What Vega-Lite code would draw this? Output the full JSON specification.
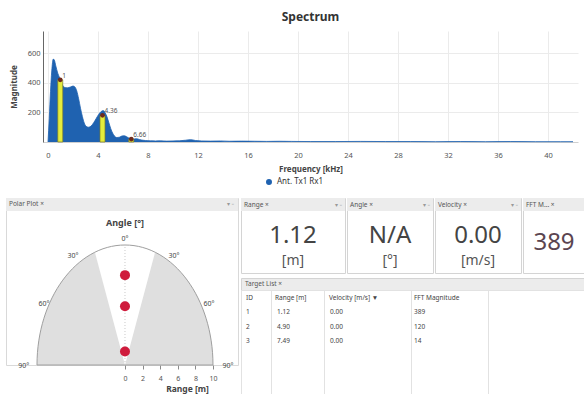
{
  "$schema": "https://vega.github.io/schema/vega-lite/v6.json",
  "padding": {"left": 5, "top": 11, "right": 0, "bottom": 0},
  "background": "white",
  "spacing": 9,
  "resolve": {"scale": {"color": "independent"}, "legend": {"color": "independent"}},
  "config": {
    "font": "Noto Sans",
    "view": {"stroke": null}
  },
  "datasets": {
    "spectrum": [
      {"f": 0, "mag": 0}, {"f": 0.1, "mag": 160}, {"f": 0.2, "mag": 340}, {"f": 0.3, "mag": 480},
      {"f": 0.42, "mag": 560}, {"f": 0.5, "mag": 555}, {"f": 0.62, "mag": 515}, {"f": 0.78, "mag": 465},
      {"f": 0.95, "mag": 430}, {"f": 1.1, "mag": 395}, {"f": 1.3, "mag": 370}, {"f": 1.55, "mag": 366},
      {"f": 1.8, "mag": 372}, {"f": 2.0, "mag": 378}, {"f": 2.15, "mag": 372}, {"f": 2.3, "mag": 345},
      {"f": 2.45, "mag": 292}, {"f": 2.6, "mag": 228}, {"f": 2.75, "mag": 172}, {"f": 2.9, "mag": 128},
      {"f": 3.05, "mag": 106}, {"f": 3.25, "mag": 100}, {"f": 3.45, "mag": 108}, {"f": 3.65, "mag": 130},
      {"f": 3.85, "mag": 158}, {"f": 4.05, "mag": 186}, {"f": 4.25, "mag": 206}, {"f": 4.42, "mag": 212},
      {"f": 4.58, "mag": 196}, {"f": 4.72, "mag": 170}, {"f": 4.87, "mag": 130}, {"f": 5.02, "mag": 90},
      {"f": 5.17, "mag": 60}, {"f": 5.32, "mag": 40}, {"f": 5.5, "mag": 30}, {"f": 5.7, "mag": 32},
      {"f": 5.9, "mag": 40}, {"f": 6.1, "mag": 42}, {"f": 6.3, "mag": 35}, {"f": 6.5, "mag": 25},
      {"f": 6.7, "mag": 20}, {"f": 6.9, "mag": 21}, {"f": 7.1, "mag": 22}, {"f": 7.3, "mag": 17},
      {"f": 7.5, "mag": 13}, {"f": 7.8, "mag": 10}, {"f": 8.2, "mag": 8}, {"f": 8.6, "mag": 7},
      {"f": 9.0, "mag": 8}, {"f": 9.5, "mag": 6}, {"f": 10.0, "mag": 7}, {"f": 10.5, "mag": 8},
      {"f": 11.0, "mag": 12}, {"f": 11.4, "mag": 16}, {"f": 11.8, "mag": 10}, {"f": 12.3, "mag": 7},
      {"f": 13.0, "mag": 6}, {"f": 13.8, "mag": 7}, {"f": 14.5, "mag": 5}, {"f": 15.5, "mag": 6},
      {"f": 16.5, "mag": 5}, {"f": 17.5, "mag": 4}, {"f": 18.5, "mag": 5}, {"f": 19.5, "mag": 4},
      {"f": 21, "mag": 3}, {"f": 23, "mag": 3}, {"f": 25, "mag": 4}, {"f": 27, "mag": 3},
      {"f": 29, "mag": 3}, {"f": 31, "mag": 2}, {"f": 33, "mag": 3}, {"f": 35, "mag": 2},
      {"f": 37, "mag": 3}, {"f": 39, "mag": 2}, {"f": 41, "mag": 2}, {"f": 42, "mag": 2}
    ],
    "peaks": [
      {"f": 0.98, "mag": 420, "label": "1"},
      {"f": 4.36, "mag": 180, "label": "4.36"},
      {"f": 6.66, "mag": 20, "label": "6.66"}
    ],
    "targets": [
      {"id": 1, "range": 1.12, "velocity": 0, "fft": 389},
      {"id": 2, "range": 4.9, "velocity": 0, "fft": 120},
      {"id": 3, "range": 7.49, "velocity": 0, "fft": 14}
    ],
    "tiles": [
      {"name": "Range", "tab": "Range  ×", "value": "1.12", "unit": "[m]"},
      {"name": "Angle", "tab": "Angle  ×", "value": "N/A", "unit": "[°]"},
      {"name": "Velocity", "tab": "Velocity  ×", "value": "0.00", "unit": "[m/s]"},
      {"name": "FFT", "tab": "FFT M...  ×", "value": "389", "unit": ""}
    ],
    "angles": [
      {"label": "0°", "x": 0, "y": 10.5},
      {"label": "30°", "x": -5.9, "y": 9.08},
      {"label": "30°", "x": 5.57, "y": 9.08},
      {"label": "60°", "x": -9.2, "y": 5.08},
      {"label": "60°", "x": 9.55, "y": 5.08},
      {"label": "90°", "x": -11.5, "y": -0.1},
      {"label": "90°", "x": 11.7, "y": -0.1}
    ]
  },
  "vconcat": [
    {
      "spacing": 0,
      "resolve": {"scale": {"color": "independent"}, "legend": {"color": "independent"}},
      "hconcat": [
        {"width": 4, "height": 1, "data": {"values": []}, "mark": "text"},
        {
          "width": 535,
          "height": 111,
          "title": {"text": "Spectrum", "fontSize": 12, "fontWeight": "bold", "color": "#333333", "offset": 7},
          "layer": [
            {
              "data": {"name": "spectrum"},
              "mark": {"type": "area", "interpolate": "monotone", "opacity": 1, "line": {"color": "#4a86c8", "strokeWidth": 0.8}},
              "encoding": {
                "x": {
                  "field": "f", "type": "quantitative", "title": "Frequency [kHz]",
                  "scale": {"domain": [0, 42], "nice": false, "zero": false},
                  "axis": {
                    "values": [0, 2, 4, 6, 8, 10, 12, 14, 16, 18, 20, 22, 24, 26, 28, 30, 32, 34, 36, 38, 40, 42],
                    "ticks": false, "labelPadding": 9, "labelFontSize": 7.5, "labelColor": "#555555",
                    "labelFlush": true, "domainColor": "#cfcfcf", "gridColor": "#ebebeb",
                    "titleFontSize": 8, "titleFontWeight": "bold", "titleColor": "#444444", "titlePadding": 7
                  }
                },
                "y": {
                  "field": "mag", "type": "quantitative", "title": "Magnitude",
                  "scale": {"domain": [0, 750], "nice": false},
                  "axis": {
                    "values": [200, 400, 600], "ticks": false, "labelPadding": 3, "labelFontSize": 7.5,
                    "labelColor": "#555555", "domainColor": "#666666", "gridColor": "#ebebeb",
                    "titleFontSize": 8, "titleFontWeight": "bold", "titleColor": "#444444", "titlePadding": 9
                  }
                },
                "color": {
                  "datum": "Ant. Tx1 Rx1", "type": "nominal",
                  "scale": {"range": ["#1f62b0"]},
                  "legend": {"orient": "none", "legendX": 222, "legendY": 147, "direction": "horizontal", "title": null, "symbolType": "circle", "symbolSize": 20, "labelFontSize": 8, "labelColor": "#333333", "padding": 0}
                }
              }
            },
            {
              "data": {"name": "peaks"},
              "mark": {"type": "bar", "size": 5, "fill": "#e4ec3c", "stroke": "#7d7d2a", "strokeWidth": 0.7},
              "encoding": {
                "x": {"field": "f", "type": "quantitative", "title": "Frequency [kHz]"},
                "y": {"field": "mag", "type": "quantitative", "title": "Magnitude"}
              }
            },
            {
              "data": {"name": "peaks"},
              "mark": {"type": "point", "filled": true, "size": 22, "color": "#6e2a1c", "opacity": 1},
              "encoding": {
                "x": {"field": "f", "type": "quantitative", "title": "Frequency [kHz]"},
                "y": {"field": "mag", "type": "quantitative", "title": "Magnitude"}
              }
            },
            {
              "data": {"name": "peaks"},
              "mark": {"type": "text", "align": "left", "baseline": "bottom", "dx": 2, "dy": -1, "fontSize": 6.5, "color": "#555555"},
              "encoding": {
                "x": {"field": "f", "type": "quantitative", "title": "Frequency [kHz]"},
                "y": {"field": "mag", "type": "quantitative", "title": "Magnitude"},
                "text": {"field": "label"}
              }
            }
          ]
        }
      ]
    },
    {
      "spacing": 3,
      "bounds": "flush",
      "hconcat": [
        {
          "width": 232,
          "height": 167,
          "view": {"stroke": "#d9d9d9"},
          "layer": [
            {
              "data": {"values": [{"t": "Polar Plot  ×"}]},
              "mark": {"type": "rect", "fill": "#ececec"},
              "encoding": {
                "y": {"datum": 12.83, "type": "quantitative", "scale": {"domain": [0, 13.92], "nice": false, "zero": false}, "axis": null},
                "y2": {"datum": 13.92}
              }
            },
            {
              "data": {"values": [{"t": "Polar Plot  ×"}]},
              "mark": {"type": "text", "align": "left", "fontSize": 6.5, "color": "#555555"},
              "encoding": {
                "text": {"field": "t"},
                "x": {
                  "datum": -13.18, "type": "quantitative", "title": "Range [m]",
                  "scale": {"domain": [-13.52, 12.84], "nice": false, "zero": false},
                  "axis": {
                    "values": [0, 2, 4, 6, 8, 10], "domain": false, "grid": false, "tickSize": 4, "tickColor": "#8a8a8a",
                    "labelFontSize": 7, "labelColor": "#555555", "labelPadding": 5,
                    "titleFontSize": 8.5, "titleFontWeight": "bold", "titleColor": "#444444", "titlePadding": 3, "titleX": 181
                  }
                },
                "y": {"datum": 13.38, "type": "quantitative", "axis": null}
              }
            },
            {
              "data": {"values": [{"t": "▾ ▫"}]},
              "mark": {"type": "text", "align": "right", "dx": -4, "fontSize": 6, "color": "#999999"},
              "encoding": {
                "text": {"field": "t"},
                "x": {"datum": 12.84, "type": "quantitative", "title": "Range [m]"},
                "y": {"datum": 13.38, "type": "quantitative", "axis": null}
              }
            },
            {
              "data": {"values": [{"s": "left"}]},
              "mark": {"type": "point", "shape": "M 0 0 L -0.7333 0 A 0.7333 1 0 0 1 -0.2508 -0.9397 Z", "size": 57600, "filled": true, "fill": "#dfdfdf", "strokeWidth": 0, "opacity": 1},
              "encoding": {
                "x": {"datum": 0, "type": "quantitative", "title": "Range [m]"},
                "y": {"datum": 0, "type": "quantitative", "axis": null}
              }
            },
            {
              "data": {"values": [{"s": "right"}]},
              "mark": {"type": "point", "shape": "M 0 0 L 0.2508 -0.9397 A 0.7333 1 0 0 1 0.7333 0 Z", "size": 57600, "filled": true, "fill": "#dfdfdf", "strokeWidth": 0, "opacity": 1},
              "encoding": {
                "x": {"datum": 0, "type": "quantitative", "title": "Range [m]"},
                "y": {"datum": 0, "type": "quantitative", "axis": null}
              }
            },
            {
              "data": {"values": [{"s": "outline"}]},
              "mark": {"type": "point", "shape": "M -0.7333 0 A 0.7333 1 0 0 1 0.7333 0 Z", "size": 57600, "filled": false, "stroke": "#9f9f9f", "strokeWidth": 1, "opacity": 1},
              "encoding": {
                "x": {"datum": 0, "type": "quantitative", "title": "Range [m]"},
                "y": {"datum": 0, "type": "quantitative", "axis": null}
              }
            },
            {
              "data": {"values": [{"s": "boresight"}]},
              "mark": {"type": "rule", "strokeDash": [1, 2], "color": "#c9c9c9"},
              "encoding": {
                "x": {"datum": 0, "type": "quantitative", "title": "Range [m]"},
                "y": {"datum": 0, "type": "quantitative", "axis": null},
                "y2": {"datum": 10}
              }
            },
            {
              "data": {"name": "targets"},
              "mark": {"type": "circle", "size": 100, "color": "#cf1b3c", "opacity": 1},
              "encoding": {
                "x": {"datum": 0, "type": "quantitative", "title": "Range [m]"},
                "y": {"field": "range", "type": "quantitative", "axis": null}
              }
            },
            {
              "data": {"name": "angles"},
              "mark": {"type": "text", "fontSize": 7, "color": "#444444"},
              "encoding": {
                "x": {"field": "x", "type": "quantitative", "title": "Range [m]"},
                "y": {"field": "y", "type": "quantitative", "axis": null},
                "text": {"field": "label"}
              }
            },
            {
              "data": {"values": [{"t": "Angle [°]"}]},
              "mark": {"type": "text", "fontSize": 9, "fontWeight": "bold", "color": "#444444"},
              "encoding": {
                "x": {"datum": 0, "type": "quantitative", "title": "Range [m]"},
                "y": {"datum": 11.83, "type": "quantitative", "axis": null},
                "text": {"field": "t"}
              }
            }
          ]
        },
        {
          "spacing": 3,
          "vconcat": [
            {
              "spacing": 2,
              "bounds": "flush",
              "hconcat": [
                {
                  "width": 104, "height": 75, "view": {"stroke": "#d4d4d4"},
                  "data": {"name": "tiles"},
                  "transform": [{"filter": "datum.name === 'Range'"}],
                  "layer": [
                    {"mark": {"type": "rect", "fill": "#ececec"}, "encoding": {"y": {"datum": 0.827, "type": "quantitative", "scale": {"domain": [0, 1], "nice": false, "zero": false}, "axis": null}, "y2": {"datum": 1}}},
                    {"mark": {"type": "text", "align": "left", "dx": 3, "fontSize": 6.5, "color": "#555555"}, "encoding": {"text": {"field": "tab"}, "x": {"datum": 0, "type": "quantitative", "scale": {"domain": [0, 1], "nice": false}, "axis": null}, "y": {"datum": 0.913, "type": "quantitative", "axis": null}}},
                    {"mark": {"type": "text", "align": "right", "dx": -3, "fontSize": 6, "color": "#999999", "text": "▾ ▫"}, "encoding": {"x": {"datum": 1, "type": "quantitative", "axis": null}, "y": {"datum": 0.913, "type": "quantitative", "axis": null}}},
                    {"mark": {"type": "text", "fontSize": 24, "color": "#444444"}, "encoding": {"text": {"field": "value"}, "y": {"datum": 0.495, "type": "quantitative", "axis": null}}},
                    {"mark": {"type": "text", "fontSize": 14, "color": "#555555"}, "encoding": {"text": {"field": "unit"}, "y": {"datum": 0.16, "type": "quantitative", "axis": null}}}
                  ]
                },
                {
                  "width": 86, "height": 75, "view": {"stroke": "#d4d4d4"},
                  "data": {"name": "tiles"},
                  "transform": [{"filter": "datum.name === 'Angle'"}],
                  "layer": [
                    {"mark": {"type": "rect", "fill": "#ececec"}, "encoding": {"y": {"datum": 0.827, "type": "quantitative", "scale": {"domain": [0, 1], "nice": false, "zero": false}, "axis": null}, "y2": {"datum": 1}}},
                    {"mark": {"type": "text", "align": "left", "dx": 3, "fontSize": 6.5, "color": "#555555"}, "encoding": {"text": {"field": "tab"}, "x": {"datum": 0, "type": "quantitative", "scale": {"domain": [0, 1], "nice": false}, "axis": null}, "y": {"datum": 0.913, "type": "quantitative", "axis": null}}},
                    {"mark": {"type": "text", "align": "right", "dx": -3, "fontSize": 6, "color": "#999999", "text": "▾ ▫"}, "encoding": {"x": {"datum": 1, "type": "quantitative", "axis": null}, "y": {"datum": 0.913, "type": "quantitative", "axis": null}}},
                    {"mark": {"type": "text", "fontSize": 24, "color": "#444444"}, "encoding": {"text": {"field": "value"}, "y": {"datum": 0.495, "type": "quantitative", "axis": null}}},
                    {"mark": {"type": "text", "fontSize": 14, "color": "#555555"}, "encoding": {"text": {"field": "unit"}, "y": {"datum": 0.16, "type": "quantitative", "axis": null}}}
                  ]
                },
                {
                  "width": 86, "height": 75, "view": {"stroke": "#d4d4d4"},
                  "data": {"name": "tiles"},
                  "transform": [{"filter": "datum.name === 'Velocity'"}],
                  "layer": [
                    {"mark": {"type": "rect", "fill": "#ececec"}, "encoding": {"y": {"datum": 0.827, "type": "quantitative", "scale": {"domain": [0, 1], "nice": false, "zero": false}, "axis": null}, "y2": {"datum": 1}}},
                    {"mark": {"type": "text", "align": "left", "dx": 3, "fontSize": 6.5, "color": "#555555"}, "encoding": {"text": {"field": "tab"}, "x": {"datum": 0, "type": "quantitative", "scale": {"domain": [0, 1], "nice": false}, "axis": null}, "y": {"datum": 0.913, "type": "quantitative", "axis": null}}},
                    {"mark": {"type": "text", "align": "right", "dx": -3, "fontSize": 6, "color": "#999999", "text": "▾ ▫"}, "encoding": {"x": {"datum": 1, "type": "quantitative", "axis": null}, "y": {"datum": 0.913, "type": "quantitative", "axis": null}}},
                    {"mark": {"type": "text", "fontSize": 24, "color": "#444444"}, "encoding": {"text": {"field": "value"}, "y": {"datum": 0.495, "type": "quantitative", "axis": null}}},
                    {"mark": {"type": "text", "fontSize": 14, "color": "#555555"}, "encoding": {"text": {"field": "unit"}, "y": {"datum": 0.16, "type": "quantitative", "axis": null}}}
                  ]
                },
                {
                  "width": 62, "height": 75, "view": {"stroke": "#d4d4d4"},
                  "data": {"name": "tiles"},
                  "transform": [{"filter": "datum.name === 'FFT'"}],
                  "layer": [
                    {"mark": {"type": "rect", "fill": "#ececec"}, "encoding": {"y": {"datum": 0.827, "type": "quantitative", "scale": {"domain": [0, 1], "nice": false, "zero": false}, "axis": null}, "y2": {"datum": 1}}},
                    {"mark": {"type": "text", "align": "left", "dx": 3, "fontSize": 6.5, "color": "#555555"}, "encoding": {"text": {"field": "tab"}, "x": {"datum": 0, "type": "quantitative", "scale": {"domain": [0, 1], "nice": false}, "axis": null}, "y": {"datum": 0.913, "type": "quantitative", "axis": null}}},
                    {"mark": {"type": "text", "fontSize": 24, "color": "#5b4550"}, "encoding": {"text": {"field": "value"}, "y": {"datum": 0.4, "type": "quantitative", "axis": null}}}
                  ]
                }
              ]
            },
            {
              "spacing": 0,
              "bounds": "flush",
              "vconcat": [
                {
                  "width": 344, "height": 12,
                  "view": {"fill": "#ececec", "stroke": "#d4d4d4"},
                  "data": {"values": [{"t": "Target List  ×"}]},
                  "mark": {"type": "text", "align": "left", "dx": 4, "fontSize": 6.5, "color": "#555555"},
                  "encoding": {
                    "text": {"field": "t"},
                    "x": {"datum": 0, "type": "quantitative", "scale": {"domain": [0, 1], "nice": false}, "axis": null}
                  }
                },
                {
                  "spacing": 0,
                  "bounds": "flush",
                  "hconcat": [
                    {
                      "width": 30, "height": 107, "view": {"stroke": "#e2e2e2"},
                      "layer": [
                        {"data": {"values": [{"h": "ID"}]}, "mark": {"type": "text", "align": "left", "dx": 5, "fontSize": 6.5, "color": "#444444"},
                         "encoding": {"text": {"field": "h"}, "x": {"datum": 0, "type": "quantitative", "scale": {"domain": [0, 1], "nice": false}, "axis": null}, "y": {"datum": 0, "type": "quantitative", "scale": {"domain": [-0.556, 6.875], "reverse": true, "nice": false, "zero": false}, "axis": null}}},
                        {"data": {"name": "targets"}, "mark": {"type": "text", "align": "left", "dx": 5, "fontSize": 6.5, "color": "#444444"},
                         "encoding": {"text": {"field": "id", "type": "quantitative", "format": "d"}, "x": {"datum": 0, "type": "quantitative", "axis": null}, "y": {"field": "id", "type": "quantitative", "axis": null}}}
                      ]
                    },
                    {
                      "width": 53, "height": 107, "view": {"stroke": "#e2e2e2"},
                      "layer": [
                        {"data": {"values": [{"h": "Range [m]"}]}, "mark": {"type": "text", "align": "left", "dx": 4, "fontSize": 6.5, "color": "#444444"},
                         "encoding": {"text": {"field": "h"}, "x": {"datum": 0, "type": "quantitative", "scale": {"domain": [0, 1], "nice": false}, "axis": null}, "y": {"datum": 0, "type": "quantitative", "scale": {"domain": [-0.556, 6.875], "reverse": true, "nice": false, "zero": false}, "axis": null}}},
                        {"data": {"name": "targets"}, "mark": {"type": "text", "align": "left", "dx": 6, "fontSize": 6.5, "color": "#444444"},
                         "encoding": {"text": {"field": "range", "type": "quantitative", "format": ".2f"}, "x": {"datum": 0, "type": "quantitative", "axis": null}, "y": {"field": "id", "type": "quantitative", "axis": null}}}
                      ]
                    },
                    {
                      "width": 87, "height": 107, "view": {"stroke": "#e2e2e2"},
                      "layer": [
                        {"data": {"values": [{"h": "Velocity [m/s] ▼"}]}, "mark": {"type": "text", "align": "left", "dx": 5, "fontSize": 6.5, "color": "#444444"},
                         "encoding": {"text": {"field": "h"}, "x": {"datum": 0, "type": "quantitative", "scale": {"domain": [0, 1], "nice": false}, "axis": null}, "y": {"datum": 0, "type": "quantitative", "scale": {"domain": [-0.556, 6.875], "reverse": true, "nice": false, "zero": false}, "axis": null}}},
                        {"data": {"name": "targets"}, "mark": {"type": "text", "align": "left", "dx": 6, "fontSize": 6.5, "color": "#444444"},
                         "encoding": {"text": {"field": "velocity", "type": "quantitative", "format": ".2f"}, "x": {"datum": 0, "type": "quantitative", "axis": null}, "y": {"field": "id", "type": "quantitative", "axis": null}}}
                      ]
                    },
                    {
                      "width": 77, "height": 107, "view": {"stroke": "#e2e2e2"},
                      "layer": [
                        {"data": {"values": [{"h": "FFT Magnitude"}]}, "mark": {"type": "text", "align": "left", "dx": 3, "fontSize": 6.5, "color": "#444444"},
                         "encoding": {"text": {"field": "h"}, "x": {"datum": 0, "type": "quantitative", "scale": {"domain": [0, 1], "nice": false}, "axis": null}, "y": {"datum": 0, "type": "quantitative", "scale": {"domain": [-0.556, 6.875], "reverse": true, "nice": false, "zero": false}, "axis": null}}},
                        {"data": {"name": "targets"}, "mark": {"type": "text", "align": "left", "dx": 3, "fontSize": 6.5, "color": "#444444"},
                         "encoding": {"text": {"field": "fft", "type": "quantitative", "format": "d"}, "x": {"datum": 0, "type": "quantitative", "axis": null}, "y": {"field": "id", "type": "quantitative", "axis": null}}}
                      ]
                    },
                    {
                      "width": 97, "height": 107, "view": {"stroke": "#e2e2e2"},
                      "data": {"values": []},
                      "mark": "text"
                    }
                  ]
                }
              ]
            }
          ]
        }
      ]
    }
  ]
}
